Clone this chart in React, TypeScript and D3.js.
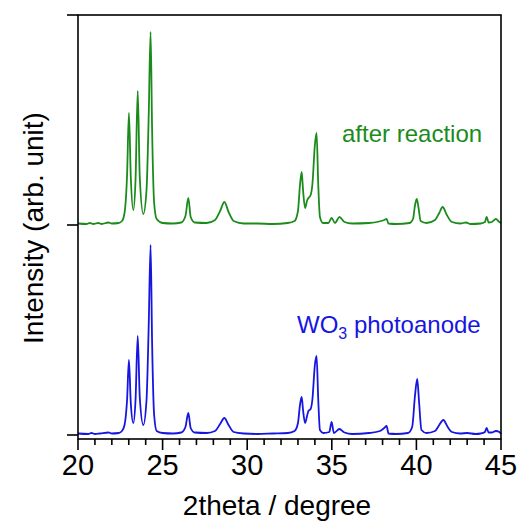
import React from "react";
import * as d3 from "d3";

// ---- data ----
const greenTheta = [20.0,20.5,20.7,20.9,21.2,21.4,21.8,22.0,22.4,22.6,22.75,22.9,23.01,23.12,23.27,23.4,23.53,23.65,23.86,24.05,24.18,24.29,24.38,24.5,24.65,25.0,25.6,26.1,26.35,26.52,26.66,26.9,27.6,28.1,28.4,28.65,28.9,29.2,29.8,30.6,31.5,32.4,32.8,33.0,33.12,33.22,33.3,33.42,33.55,33.62,33.75,33.85,34.0,34.1,34.2,34.3,34.48,34.8,34.99,35.19,35.45,35.75,36.2,37.2,37.8,38.1,38.24,38.35,38.8,39.6,39.8,39.92,40.02,40.12,40.25,40.6,41.1,41.35,41.55,41.8,42.1,42.6,42.93,43.2,43.8,44.05,44.15,44.27,44.45,44.7,44.9,45.0];
const greenIntensity = [1.5,1,2,1,2,1,2.5,1.5,2,4,12,50,112,48,15,45,134,48,11,35,110,193,95,22,6,2,1.5,2.5,9,27,8,2.5,2,5,14,23,13,4,1.5,1.5,1,2,4,14,40,53,35,17,25,27,30,40,80,92,40,8,2,2,7,2,8,3,1.5,2,3.5,5,6,1.5,1,2,6,20,26,18,4,2,5,12,18,10,3,1.5,2.5,1,1.5,3,8,2.5,3,6,3,2];

const blueTheta = [20.0,20.6,20.8,21.0,21.3,21.8,22.0,22.4,22.6,22.75,22.9,23.01,23.12,23.27,23.4,23.53,23.65,23.86,24.05,24.18,24.29,24.38,24.5,24.65,25.0,25.6,26.1,26.35,26.52,26.66,26.9,27.6,28.1,28.4,28.65,28.9,29.2,29.8,30.6,31.5,32.4,32.8,33.0,33.12,33.22,33.3,33.42,33.55,33.62,33.75,33.85,34.0,34.1,34.2,34.3,34.5,34.85,34.99,35.12,35.45,35.75,36.2,37.2,37.85,38.1,38.24,38.35,38.8,39.5,39.75,39.92,40.05,40.15,40.3,40.6,41.1,41.35,41.59,41.85,42.1,42.6,43.0,43.5,43.8,44.05,44.15,44.27,44.45,44.7,44.9,45.0];
const blueIntensity = [1.5,1,2,1,1.5,2.5,1.5,2,4,10,35,75,32,12,35,99,38,10,35,110,190,92,20,4,2,1.5,2.5,8,22,7,2.5,2,4,11,17,10,3,1.5,1,1.5,2,4,12,30,38,25,12,20,24,26,35,70,79,35,5,2,3,13,2,6,2.5,1,2,4,7,9,1.5,1,2,8,40,56,35,5,2,4,10,15,8,3,1.5,2,1,1.5,3,7,2.5,2.5,4,3,1];

const greenOffset = 210;
const xTicks = [20, 25, 30, 35, 40, 45];
const xMinorTicks = d3.range(20, 46, 1);
const yTicks = [0, 210, 420];

const GREEN = "#1b8c1b";
const BLUE = "#1616e0";
const FONT = "Liberation Sans, Arial, sans-serif";

export default function App() {
  const left = 78, right = 501, top = 15, bottom = 439;
  const x = d3.scaleLinear().domain([20, 45]).range([left, right]);
  const y = d3.scaleLinear().domain([-4, 420]).range([bottom, top]);

  const line = d3
    .line<[number, number]>()
    .x((d) => x(d[0]))
    .y((d) => y(d[1]))
    .curve(d3.curveMonotoneX);

  const gPts: [number, number][] = greenTheta.map((t, i) => [t, greenIntensity[i] + greenOffset]);
  const bPts: [number, number][] = blueTheta.map((t, i) => [t, blueIntensity[i]]);

  return (
    <svg
      width={519}
      height={521}
      style={{ position: "absolute", left: 0, top: 0, background: "#fff" }}
      fontFamily={FONT}
    >
      <rect x={0} y={0} width={519} height={521} fill="#fff" />
      <path d={line(bPts) || ""} fill="none" stroke={BLUE} strokeWidth={1.8} strokeLinejoin="round" />
      <path d={line(gPts) || ""} fill="none" stroke={GREEN} strokeWidth={1.8} strokeLinejoin="round" />

      {/* frame */}
      <rect x={left} y={top} width={right - left} height={bottom - top} fill="none" stroke="#000" strokeWidth={1.6} />

      {/* y ticks */}
      {yTicks.map((v) => (
        <line key={"y" + v} x1={left - 11} x2={left} y1={y(v)} y2={y(v)} stroke="#000" strokeWidth={1.6} />
      ))}

      {/* x ticks (major and minor) */}
      {xMinorTicks.map((v) => (
        <line key={"m" + v} x1={x(v)} x2={x(v)} y1={bottom} y2={bottom + (v % 5 === 0 ? 11 : 6)} stroke="#000" strokeWidth={1.6} />
      ))}

      {/* x tick labels */}
      {xTicks.map((v) => (
        <text key={"t" + v} x={x(v)} y={475} fontSize={29} textAnchor="middle" fill="#000">
          {v}
        </text>
      ))}

      <text x={277} y={515} fontSize={28} textAnchor="middle" fill="#000">
        2theta / degree
      </text>
      <text transform="translate(43,228) rotate(-90)" fontSize={28} textAnchor="middle" fill="#000">
        Intensity (arb. unit)
      </text>

      <text x={342} y={142} fontSize={24} fill={GREEN}>
        after reaction
      </text>
      <text x={297} y={333} fontSize={24} fill={BLUE}>
        WO<tspan fontSize={16} dy={6}>3</tspan>
        <tspan dy={-6}> photoanode</tspan>
      </text>
    </svg>
  );
}
